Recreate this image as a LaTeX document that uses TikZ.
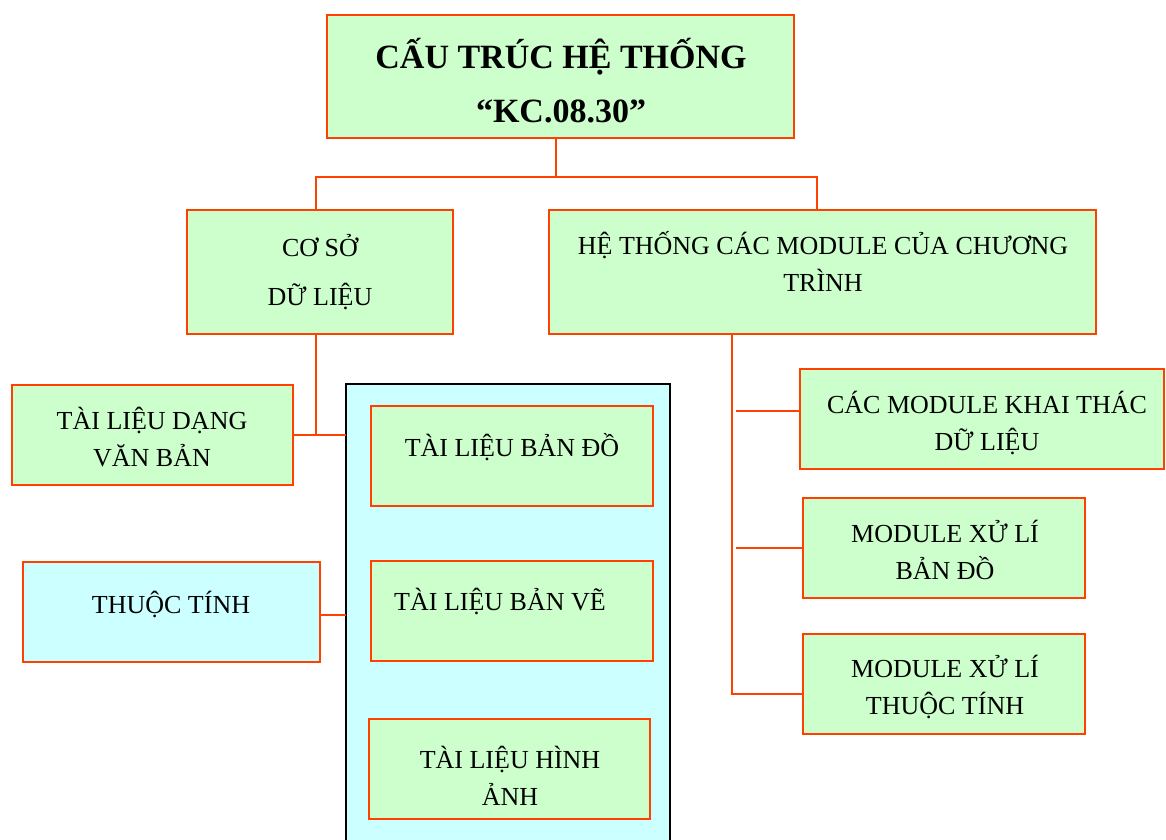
\documentclass[tikz,border=0pt]{standalone}
\usepackage{fontspec}
\setmainfont{Liberation Serif}
\definecolor{lnred}{RGB}{255,64,0}
\definecolor{boxgreen}{RGB}{204,255,204}
\definecolor{boxcyan}{RGB}{204,255,255}
\tikzset{
  frame/.style={draw=lnred, line width=2pt, fill=boxgreen, inner sep=0pt, outer sep=0pt},
  framecyan/.style={frame, fill=boxcyan},
  panelbox/.style={draw=black, line width=2pt, fill=boxcyan, inner sep=0pt, outer sep=0pt},
  txt/.style={inner sep=0pt, align=center, font=\fontsize{26}{37}\selectfont},
  txtwide/.style={inner sep=0pt, align=center, font=\fontsize{26}{49}\selectfont},
  txttitle/.style={inner sep=0pt, align=center, font=\bfseries\fontsize{34}{54}\selectfont},
  conn/.style={draw=lnred, line width=2pt}
}
% \bx{name}{x1}{y1}{x2}{y2}{style}
\newcommand\bx[6]{%
  \node[#6, minimum width={(#4-#2)*1pt}, minimum height={(#5-#3)*1pt}] (#1) at ({(#2+#4)/2},{(#3+#5)/2}) {};}
\begin{document}
\begin{tikzpicture}[x=1pt,y=-1pt]
\useasboundingbox (0,0) rectangle (1166,839);

% boxes
\bx{title}{327}{15}{794}{138}{frame}
\bx{csdl}{187}{210}{453}{334}{frame}
\bx{htcm}{549}{210}{1096}{334}{frame}
\bx{tlvb}{12}{385}{293}{485}{frame}
\bx{tt}{23}{562}{320}{662}{framecyan}
\bx{panel}{346}{384}{670}{860}{panelbox}
\bx{tlbd}{371}{406}{653}{506}{frame}
\bx{tlbv}{371}{561}{653}{661}{frame}
\bx{tlha}{369}{719}{650}{819}{frame}
\bx{cmkt}{800}{369}{1164}{469}{frame}
\bx{mxlbd}{803}{498}{1085}{598}{frame}
\bx{mxltt}{803}{634}{1085}{734}{frame}

% texts
\node[txttitle] (title-t) at (561,85) {\strut CẤU TRÚC HỆ THỐNG\\\strut “KC.08.30”};
\node[txtwide] (csdl-t) at (320,271.5) {\strut CƠ SỞ\\\strut DỮ LIỆU};
\node[txt] (htcm-t) at (823,265.5) {\strut HỆ THỐNG CÁC MODULE CỦA CHƯƠNG\\\strut TRÌNH};
\node[txt] (tlvb-t) at (152,440.5) {\strut TÀI LIỆU DẠNG\\\strut VĂN BẢN};
\node[txt] (tt-t) at (171,606) {\strut THUỘC TÍNH};
\node[txt] (tlbd-t) at (512,449) {\strut TÀI LIỆU BẢN ĐỒ};
\node[txt] (tlbv-t) at (500,603) {\strut TÀI LIỆU BẢN VẼ};
\node[txt] (tlha-t) at (510,779.5) {\strut TÀI LIỆU HÌNH\\\strut ẢNH};
\node[txt] (cmkt-t) at (987,425) {\strut CÁC MODULE KHAI THÁC\\\strut DỮ LIỆU};
\node[txt] (mxlbd-t) at (945,553.5) {\strut MODULE XỬ LÍ\\\strut BẢN ĐỒ};
\node[txt] (mxltt-t) at (945,688.5) {\strut MODULE XỬ LÍ\\\strut THUỘC TÍNH};

% junction coordinates
\coordinate (jTop) at (556,177);
\coordinate (jL) at (316,177);
\coordinate (jR) at (817,177);
\coordinate (jV) at (316,435);
\coordinate (jT) at (333,615);
\coordinate (jB) at (732,694);
\coordinate (b1) at (736,411);
\coordinate (b2) at (736,548);

% connectors
\draw[conn] (title.south -| jTop) -- (jTop);
\draw[conn] (csdl.north -| jL) -- (jL) -- (jR) -- (htcm.north -| jR);
\draw[conn] (csdl.south -| jV) -- (jV);
\draw[conn] (tlvb.east |- jV) -- (panel.west |- jV);
\draw[conn] (tt.east |- jT) -- (panel.west |- jT);
\draw[conn] (htcm.south -| jB) -- (jB) -- (mxltt.west |- jB);
\draw[conn] (b1) -- (cmkt.west |- b1);
\draw[conn] (b2) -- (mxlbd.west |- b2);
\end{tikzpicture}
\end{document}
